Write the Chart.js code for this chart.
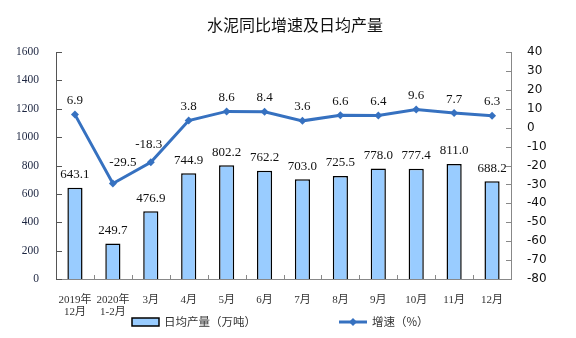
<!DOCTYPE html>
<html>
<head>
<meta charset="utf-8">
<script src="https://cdn.jsdelivr.net/npm/chart.js@4"></script>
<style>
html, body { margin: 0; padding: 0; background: #fff; }
</style>
</head>
<body>
<canvas id="chart" width="576" height="338"></canvas>
<script>
// 數據
const chartTitle = "水泥同比增速及日均产量";
const months = [["2019年", "12月"], ["2020年", "1-2月"], "3月", "4月", "5月", "6月", "7月", "8月", "9月", "10月", "11月", "12月"];
const dailyOutput = [643.1, 249.7, 476.9, 744.9, 802.2, 762.2, 703.0, 725.5, 778.0, 777.4, 811.0, 688.2];
const growthRate = [6.9, -29.5, -18.3, 3.8, 8.6, 8.4, 3.6, 6.6, 6.4, 9.6, 7.7, 6.3];
const outputLabel = "日均产量（万吨）";
const growthLabel = "增速（%）";
const leftTicks = [0, 200, 400, 600, 800, 1000, 1200, 1400, 1600];
const rightTicks = [-80, -70, -60, -50, -40, -30, -20, -10, 0, 10, 20, 30, 40];

const lineColor = "#3671c0";
const barColor = "#99ccff";
const serif = "'Liberation Serif', 'Times New Roman', 'Noto Sans CJK SC', serif";
const cjk = "'Noto Sans CJK SC', sans-serif";

// 折線標籤微調
const growthNudge = { 1: [10, -7], 2: [-2, -4] };

const extrasPlugin = {
    id: "extras",
    afterDatasetsDraw(chart) {
        const ctx = chart.ctx;
        ctx.save();
        ctx.textAlign = "center";
        ctx.textBaseline = "middle";
        ctx.fillStyle = "#111";

        // 柱子數值
        ctx.font = "13px " + serif;
        chart.getDatasetMeta(0).data.forEach((bar, i) => {
            ctx.fillText(dailyOutput[i].toFixed(1), bar.x, bar.y - 13);
        });

        // 折線數值
        chart.getDatasetMeta(1).data.forEach((pt, i) => {
            const n = growthNudge[i] || [0, 0];
            ctx.fillText(growthRate[i].toFixed(1), pt.x + n[0], pt.y - 14 + n[1]);
        });
        ctx.restore();
    },
    afterDraw(chart) {
        const ctx = chart.ctx;
        const area = chart.chartArea;
        const sy = chart.scales.y;
        const sy1 = chart.scales.y1;
        const sx = chart.scales.x;
        ctx.save();

        // 內向刻度
        ctx.lineWidth = 1;
        ctx.strokeStyle = "#555";
        leftTicks.forEach(v => {
            const y = Math.round(sy.getPixelForValue(v)) + 0.5;
            ctx.beginPath();
            ctx.moveTo(area.left, y);
            ctx.lineTo(area.left + 6, y);
            ctx.stroke();
        });
        ctx.strokeStyle = "#888";
        rightTicks.forEach(v => {
            const y = Math.round(sy1.getPixelForValue(v)) + 0.5;
            ctx.beginPath();
            ctx.moveTo(area.right - 5, y);
            ctx.lineTo(area.right, y);
            ctx.stroke();
        });
        for (let i = 1; i < months.length; i++) {
            const x = Math.round((sx.getPixelForValue(i - 1) + sx.getPixelForValue(i)) / 2) + 0.5;
            ctx.beginPath();
            ctx.moveTo(x, area.bottom);
            ctx.lineTo(x, area.bottom - 4);
            ctx.stroke();
        }

        // 標題
        ctx.fillStyle = "#111";
        ctx.font = "16px " + cjk;
        ctx.textAlign = "center";
        ctx.textBaseline = "middle";
        ctx.fillText(chartTitle, 295, 25);

        // 圖例
        ctx.font = "11.5px " + cjk;
        ctx.textAlign = "left";
        ctx.fillStyle = barColor;
        ctx.fillRect(132, 318, 27, 8);
        ctx.strokeStyle = "#000";
        ctx.lineWidth = 1.5;
        ctx.strokeRect(132, 318, 27, 8);
        ctx.fillStyle = "#333";
        ctx.fillText(chart.data.datasets[0].label, 164, 322);

        ctx.strokeStyle = lineColor;
        ctx.lineWidth = 3;
        ctx.beginPath();
        ctx.moveTo(339, 322);
        ctx.lineTo(367, 322);
        ctx.stroke();
        ctx.fillStyle = lineColor;
        ctx.beginPath();
        ctx.moveTo(353, 318);
        ctx.lineTo(357, 322);
        ctx.lineTo(353, 326);
        ctx.lineTo(349, 322);
        ctx.closePath();
        ctx.fill();
        ctx.fillStyle = "#333";
        ctx.fillText(chart.data.datasets[1].label, 372, 322);

        ctx.restore();
    }
};

window.addEventListener("load", () => {
    const ctx = document.getElementById("chart").getContext("2d");

    const data = {
        labels: months,
        datasets: [
            {
                type: "bar",
                label: outputLabel,
                data: dailyOutput,
                yAxisID: "y",
                backgroundColor: barColor,
                borderColor: "#000",
                borderWidth: 1.5,
                categoryPercentage: 1,
                barPercentage: 0.4,
                order: 1
            },
            {
                type: "line",
                label: growthLabel,
                data: growthRate,
                yAxisID: "y1",
                borderColor: lineColor,
                backgroundColor: lineColor,
                borderWidth: 3,
                pointStyle: "rectRot",
                pointRadius: 4,
                pointBackgroundColor: lineColor,
                pointBorderWidth: 0,
                tension: 0,
                order: 0
            }
        ]
    };

    const config = {
        type: "bar",
        data: data,
        options: {
            responsive: false,
            animation: false,
            layout: {
                padding: { top: 52, left: 0, right: 0, bottom: 0 }
            },
            scales: {
                x: {
                    offset: true,
                    grid: { display: false },
                    border: { display: true, color: "#888", width: 1 },
                    ticks: {
                        maxRotation: 0,
                        autoSkip: false,
                        padding: 7,
                        color: "#333",
                        font: { family: serif, size: 11, lineHeight: 1.1 }
                    },
                    afterFit: (scale) => { scale.height = 59; }
                },
                y: {
                    position: "left",
                    min: 0,
                    max: 1600,
                    grid: { display: false },
                    border: { display: true, color: "#555", width: 1 },
                    ticks: {
                        stepSize: 200,
                        padding: 9,
                        color: "#1c2540",
                        font: { family: serif, size: 11.5 },
                        callback: (value) => String(value)
                    },
                    afterFit: (scale) => { scale.width = 56; }
                },
                y1: {
                    position: "right",
                    min: -80,
                    max: 40,
                    grid: { display: false },
                    border: { display: true, color: "#888", width: 1 },
                    ticks: {
                        stepSize: 10,
                        padding: 8,
                        color: "#111",
                        font: { family: "'DejaVu Sans', sans-serif", size: 12 }
                    },
                    afterFit: (scale) => { scale.width = 65; }
                }
            },
            plugins: {
                legend: { display: false },
                tooltip: { enabled: false }
            }
        },
        plugins: [extrasPlugin]
    };

    new Chart(ctx, config);
});
</script>
</body>
</html>
